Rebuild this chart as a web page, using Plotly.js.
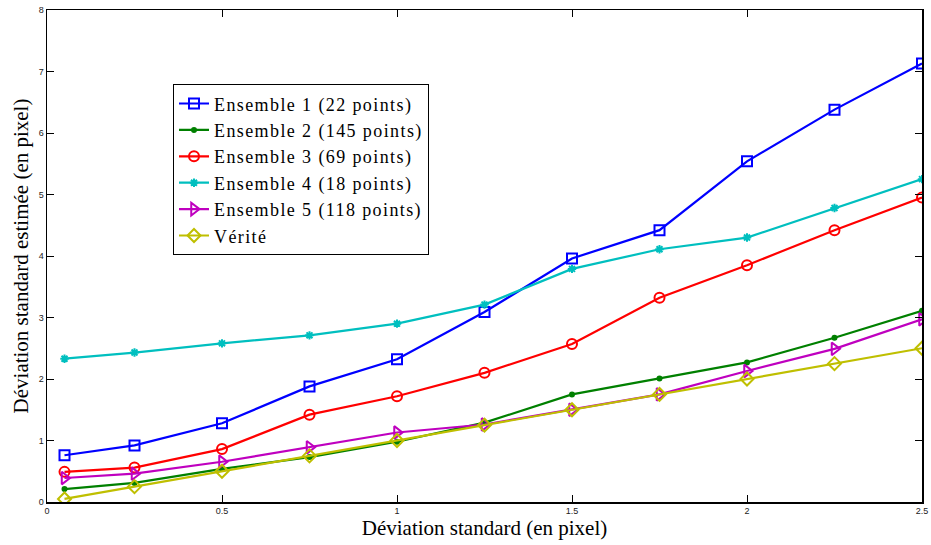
<!DOCTYPE html>
<html>
<head>
<meta charset="utf-8">
<script src="https://cdn.plot.ly/plotly-3.0.1.min.js"></script>
<style>html,body{margin:0;padding:0;background:#fff;}#chart{width:931px;height:545px;}
.legendtext{letter-spacing:1.4px;}</style>
</head>
<body>
<div id="chart"></div>
<script>
const xValues = [0.05, 0.25, 0.5, 0.75, 1, 1.25, 1.5, 1.75, 2, 2.25, 2.5];
const ensemble1 = [0.76, 0.92, 1.28, 1.88, 2.32, 3.09, 3.96, 4.42, 5.54, 6.38, 7.13];
const ensemble2 = [0.21, 0.31, 0.54, 0.73, 0.98, 1.29, 1.75, 2.01, 2.27, 2.67, 3.11];
const ensemble3 = [0.49, 0.56, 0.86, 1.42, 1.72, 2.10, 2.57, 3.32, 3.85, 4.42, 4.95];
const ensemble4 = [2.33, 2.43, 2.58, 2.71, 2.90, 3.21, 3.79, 4.11, 4.30, 4.78, 5.25];
const ensemble5 = [0.39, 0.46, 0.655, 0.89, 1.13, 1.26, 1.50, 1.75, 2.13, 2.49, 2.97];
const verite = [0.05, 0.25, 0.5, 0.75, 1.0, 1.25, 1.5, 1.75, 2.0, 2.25, 2.5];
const seriesNames = ["Ensemble 1 (22 points)", "Ensemble 2 (145 points)", "Ensemble 3 (69 points)", "Ensemble 4 (18 points)", "Ensemble 5 (118 points)", "Vérité"];
const xTickVals = [0, 0.5, 1, 1.5, 2, 2.5];
const xTickText = ["0", "0.5", "1", "1.5", "2", "2.5"];
const yTickVals = [0, 1, 2, 3, 4, 5, 6, 7, 8];

const styles = [
  {color: "#0000ff", symbol: "square-open", size: 10},
  {color: "#008000", symbol: "circle", size: 4},
  {color: "#ff0000", symbol: "circle-open", size: 10},
  {color: "#00bfbf", symbol: "asterisk-open", size: 7},
  {color: "#bf00bf", symbol: "triangle-right-open", size: 11},
  {color: "#bfbf00", symbol: "diamond-open", size: 10}
];
const ys = [ensemble1, ensemble2, ensemble3, ensemble4, ensemble5, verite];
const traces = ys.map((y, i) => ({
  x: xValues, y: y, name: seriesNames[i], type: "scatter", mode: "lines+markers",
  line: {color: styles[i].color, width: 2.2},
  marker: {color: styles[i].color, symbol: styles[i].symbol, size: styles[i].size, line: {color: styles[i].color, width: 2}}
}));

const axisCommon = {
  showgrid: false, zeroline: false, showline: true, mirror: "ticks",
  linecolor: "#000", linewidth: 1.5, ticks: "inside", ticklen: 7, tickwidth: 1, tickcolor: "#000",
  tickfont: {family: "Liberation Sans, Arial, sans-serif", size: 9, color: "#222"}
};

const layout = {
  width: 931, height: 545,
  margin: {l: 47, r: 9, t: 10, b: 43},
  paper_bgcolor: "#fff", plot_bgcolor: "#fff",
  showlegend: true,
  legend: {
    x: 0.144, y: 0.849, xanchor: "left", yanchor: "top",
    bgcolor: "#fff", bordercolor: "#000", borderwidth: 1,
    font: {family: "Liberation Serif, Times New Roman, serif", size: 18, color: "#000"},
    tracegroupgap: 0
  },
  xaxis: Object.assign({}, axisCommon, {
    range: [0, 2.5], tickvals: xTickVals, ticktext: xTickText,
    title: {text: "Déviation standard (en pixel)", standoff: 0, font: {family: "Liberation Serif, Times New Roman, serif", size: 21, color: "#000"}}
  }),
  yaxis: Object.assign({}, axisCommon, {
    range: [0, 8], tickvals: yTickVals,
    title: {text: "Déviation standard estimée (en pixel)", standoff: 4, font: {family: "Liberation Serif, Times New Roman, serif", size: 21, color: "#000"}}
  })
};

Plotly.newPlot("chart", traces, layout, {displayModeBar: false, staticPlot: true});
</script>
</body>
</html>
